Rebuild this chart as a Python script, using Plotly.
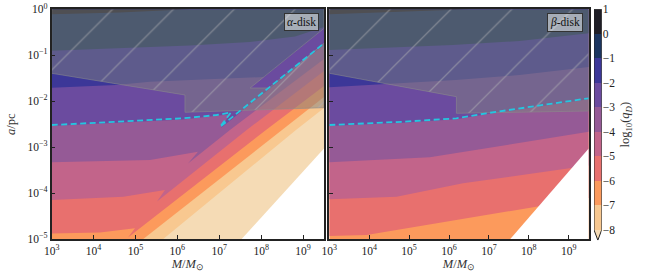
import numpy as np
import plotly.graph_objects as go

# ---------------- data (log10 M, log10 a) ----------------
# band colours keyed by the upper level of each band
band_colors = {1: '#1f1e26', 0: '#1b355f', -1: '#3c3798', -2: '#6b4b9f', -3: '#955a96',
               -4: '#c2648a', -5: '#e8706e', -6: '#fc9a5c', -7: '#f8c890', -8: '#f5dbb5'}
cbar_levels = [1, 0, -1, -2, -3, -4, -5, -6, -7, -8]
cbar_ticktext = ['1', '0', '−1', '−2', '−3', '−4', '−5', '−6', '−7', '−8']

# alpha-disk contour lines
alpha_c0_M = [3.0, 4.63, 6.30]
alpha_c0_a = [-0.109, -0.070, 0.0]
alpha_c1_M = [3.0, 4.63, 6.30, 7.73, 8.81, 9.5]
alpha_c1_a = [-0.901, -0.853, -0.788, -0.712, -0.592, -0.385]
alpha_c2_M = [3.0, 4.535, 5.346, 7.494, 8.067, 9.5]
alpha_c2_a = [-1.707, -1.648, -1.576, -1.502, -1.474, -0.414]
alpha_c3_M = [3.0, 6.135, 7.208, 7.279, 7.041, 9.5]
alpha_c3_a = [-2.540, -2.399, -2.290, -2.246, -2.584, -0.777]
alpha_c4_M = [3.0, 5.346, 6.492, 6.253, 7.255, 9.5]
alpha_c4_a = [-3.330, -3.280, -3.100, -3.357, -2.627, -1.082]
alpha_c5_M = [3.0, 4.709, 5.704, 5.513, 7.654, 9.5]
alpha_c5_a = [-4.151, -4.079, -3.933, -4.184, -2.627, -1.343]
alpha_c6_M = [3.0, 4.153, 4.988, 4.821, 8.115, 9.5]
alpha_c6_a = [-4.880, -4.859, -4.767, -4.967, -2.627, -1.670]
alpha_c7_M = [5.186, 8.496, 9.5]
alpha_c7_a = [-5.0, -2.627, -1.909]
alpha_c8_M = [5.663, 8.831, 9.5]
alpha_c8_a = [-5.0, -2.627, -2.148]

# beta-disk contour lines
beta_c0_M = [3.0, 4.768, 6.518]
beta_c0_a = [-0.109, -0.059, 0.0]
beta_c1_M = [3.0, 6.093, 7.768, 9.5]
beta_c1_a = [-0.886, -0.777, -0.690, -0.522]
beta_c2_M = [3.0, 4.518, 6.168, 7.768, 9.5]
beta_c2_a = [-1.698, -1.626, -1.539, -1.430, -1.256]
beta_c3_M = [3.0, 4.85, 6.185, 6.935, 9.5]
beta_c3_a = [-2.540, -2.468, -2.394, -2.286, -1.959]
beta_c4_M = [3.0, 4.685, 5.518, 9.5]
beta_c4_a = [-3.330, -3.265, -3.222, -2.664]
beta_c5_M = [3.0, 4.685, 6.35, 9.018, 9.5]
beta_c5_a = [-4.136, -4.079, -3.788, -3.461, -3.40]
beta_c6_M = [3.0, 3.935, 8.185, 9.5]
beta_c6_a = [-4.935, -4.913, -4.297, -4.108]

# region without data (white), same in both panels
nodata_M = [7.535, 9.5, 9.5]
nodata_a = [-5.0, -3.03, -5.0]

# hatched (excluded) regions
alpha_excl_M = [3.0, 3.0, 6.181, 6.181, 9.5, 9.5, 8.181, 7.737, 9.5, 9.5]
alpha_excl_a = [0.0, -1.393, -1.865, -2.242, -2.142, -0.740, -1.713, -1.713, -0.414, 0.0]
beta_excl_M = [3.0, 3.0, 6.185, 6.185, 9.5, 9.5]
beta_excl_a = [0.0, -1.393, -1.902, -2.264, -2.214, 0.0]

# cyan dashed curves
alpha_cyan_M = [3.0, 6.141, 6.938, 7.279, 7.017, 9.5]
alpha_cyan_a = [-2.519, -2.373, -2.301, -2.246, -2.562, -0.740]
beta_cyan_M = [3.0, 4.85, 6.185, 6.935, 9.5]
beta_cyan_a = [-2.519, -2.447, -2.373, -2.264, -1.937]

tick_exp_x = [3, 4, 5, 6, 7, 8, 9]
tick_exp_y = [0, -1, -2, -3, -4, -5]

alpha_contours = {0: (alpha_c0_M, alpha_c0_a), -1: (alpha_c1_M, alpha_c1_a), -2: (alpha_c2_M, alpha_c2_a),
                  -3: (alpha_c3_M, alpha_c3_a), -4: (alpha_c4_M, alpha_c4_a), -5: (alpha_c5_M, alpha_c5_a),
                  -6: (alpha_c6_M, alpha_c6_a), -7: (alpha_c7_M, alpha_c7_a), -8: (alpha_c8_M, alpha_c8_a)}
beta_contours = {0: (beta_c0_M, beta_c0_a), -1: (beta_c1_M, beta_c1_a), -2: (beta_c2_M, beta_c2_a),
                 -3: (beta_c3_M, beta_c3_a), -4: (beta_c4_M, beta_c4_a), -5: (beta_c5_M, beta_c5_a),
                 -6: (beta_c6_M, beta_c6_a)}

XMIN, XMAX, YMIN, YMAX = 3.0, 9.5, -5.0, 0.0
FONT = 'Liberation Serif'

fig = go.Figure()


def add_poly(M, A, color, xa, ya, line=None, pattern=None):
    kw = dict(x=10 ** np.array(M, float), y=10 ** np.array(A, float), mode='lines',
              fill='toself', fillcolor=color, hoverinfo='skip', showlegend=False,
              xaxis=xa, yaxis=ya)
    kw['line'] = line if line else dict(width=0, color=color)
    if pattern:
        kw['fillpattern'] = pattern
    fig.add_trace(go.Scatter(**kw))


def region_above(M, A):
    xs = list(M) + [XMAX, XMIN]
    ys = list(A) + [YMAX, YMAX]
    if A[0] <= YMIN + 1e-9 and M[0] > XMIN:
        xs.append(XMIN)
        ys.append(YMIN)
    return xs, ys


def draw_panel(contours, excl_M, excl_a, cyan_M, cyan_a, xa, ya):
    lowest = min(contours.keys())
    add_poly([XMIN, XMAX, XMAX, XMIN], [YMIN, YMIN, YMAX, YMAX], band_colors[lowest], xa, ya)
    for lev in sorted(contours.keys()):
        M, A = contours[lev]
        xs, ys = region_above(M, A)
        add_poly(xs, ys, band_colors[lev + 1], xa, ya)
    add_poly(nodata_M, nodata_a, '#ffffff', xa, ya)
    add_poly(excl_M, excl_a, 'rgba(128,128,128,0.5)', xa, ya,
             line=dict(width=0.8, color='rgba(140,140,140,0.7)'),
             pattern=dict(shape='/', size=43, solidity=0.03,
                          fgcolor='rgba(175,175,180,0.5)', bgcolor='rgba(128,128,128,0.5)',
                          fillmode='replace'))
    fig.add_trace(go.Scatter(x=10 ** np.array(cyan_M), y=10 ** np.array(cyan_a), mode='lines',
                             line=dict(color='#25c6df', width=1.8, dash='6px,3.5px'),
                             hoverinfo='skip', showlegend=False, xaxis=xa, yaxis=ya))


draw_panel(alpha_contours, alpha_excl_M, alpha_excl_a, alpha_cyan_M, alpha_cyan_a, 'x', 'y')
draw_panel(beta_contours, beta_excl_M, beta_excl_a, beta_cyan_M, beta_cyan_a, 'x2', 'y2')

# colour bar (drawn on its own small axes)
cb_bases = cbar_levels[1:]
fig.add_trace(go.Bar(x=[0] * len(cb_bases), y=[1] * len(cb_bases), base=cb_bases, width=1,
                     marker=dict(color=[band_colors[b + 1] for b in cb_bases], line=dict(width=0)),
                     hoverinfo='skip', showlegend=False, xaxis='x3', yaxis='y3'))
ext = -8.42
fig.add_trace(go.Scatter(x=[-0.5, 0.5, 0.0], y=[-8, -8, ext], mode='lines', fill='toself',
                         fillcolor=band_colors[-8], line=dict(width=0), hoverinfo='skip',
                         showlegend=False, xaxis='x3', yaxis='y3'))
fig.add_trace(go.Scatter(x=[-0.5, 0.5, 0.5, 0.0, -0.5, -0.5], y=[1, 1, -8, ext, -8, 1], mode='lines',
                         line=dict(color='#222', width=1), hoverinfo='skip', showlegend=False,
                         xaxis='x3', yaxis='y3'))

W, H = 645, 277
ydom = [(H - 239) / H, (H - 9.3) / H]
tfont = dict(family=FONT, size=11.5, color='#222')
xticks = [10.0 ** e for e in tick_exp_x]
xtext = ['10<sup>%d</sup>' % e for e in tick_exp_x]
yticks = [10.0 ** e for e in tick_exp_y]
ytext = ['10<sup>%s</sup>' % (str(e).replace('-', '−')) for e in tick_exp_y]

common_x = dict(type='log', range=[XMIN, XMAX], tickvals=xticks, ticktext=xtext, ticks='inside',
                ticklen=4, tickwidth=1, tickcolor='#222', showline=True, mirror=True,
                linecolor='#222', linewidth=1.5, showgrid=False, zeroline=False, automargin=False,
                tickfont=tfont,
                title=dict(text='<i>M</i>/<i>M</i><sub>⊙</sub>', standoff=3,
                           font=dict(family=FONT, size=12.5, color='#333')))
common_y = dict(type='log', range=[YMIN, YMAX], tickvals=yticks, ticks='inside',
                ticklen=4, tickwidth=1, tickcolor='#222', showline=True, mirror=True,
                linecolor='#222', linewidth=1.5, showgrid=False, zeroline=False, automargin=False,
                domain=ydom, tickfont=tfont)

fig.update_layout(
    width=W, height=H, margin=dict(l=0, r=0, t=0, b=0), template='none',
    paper_bgcolor='white', plot_bgcolor='white', showlegend=False, bargap=0,
    font=dict(family=FONT, color='#222'),
    xaxis=dict(common_x, domain=[51.7 / W, 324 / W], anchor='y'),
    yaxis=dict(common_y, anchor='x', ticktext=ytext,
               title=dict(text='<i>a</i>/pc', standoff=9, font=dict(family=FONT, size=12.5, color='#333'))),
    xaxis2=dict(common_x, domain=[329.3 / W, 588.7 / W], anchor='y2'),
    yaxis2=dict(common_y, anchor='x2', showticklabels=False),
    xaxis3=dict(domain=[594 / W, 601.7 / W], range=[-0.5, 0.5], visible=False, anchor='y3',
                fixedrange=True),
    yaxis3=dict(domain=[(H - 240.2) / H, (H - 9.3) / H], range=[ext, 1], anchor='x3', side='right',
                tickvals=cbar_levels, ticktext=cbar_ticktext, ticks='', showline=False,
                showgrid=False, zeroline=False, automargin=False, tickfont=tfont,
                title=dict(text='log<sub>10</sub>(<i>q<sub>D</sub></i>)', standoff=6,
                           font=dict(family=FONT, size=12.5, color='#333'))),
    annotations=[
        dict(text='<i>α</i>-disk', xref='x domain', yref='y domain', x=0.983, y=0.982,
             xanchor='right', yanchor='top', showarrow=False, font=dict(family=FONT, size=11.5, color='#111'),
             bgcolor='rgba(255,255,255,0.5)', bordercolor='#333', borderwidth=1, borderpad=2),
        dict(text='<i>β</i>-disk', xref='x2 domain', yref='y2 domain', x=0.979, y=0.982,
             xanchor='right', yanchor='top', showarrow=False, font=dict(family=FONT, size=11.5, color='#111'),
             bgcolor='rgba(255,255,255,0.5)', bordercolor='#333', borderwidth=1, borderpad=2),
    ],
)

fig.write_html('out.html', config={'displayModeBar': False},
               post_script="document.body.style.margin='0px';")
